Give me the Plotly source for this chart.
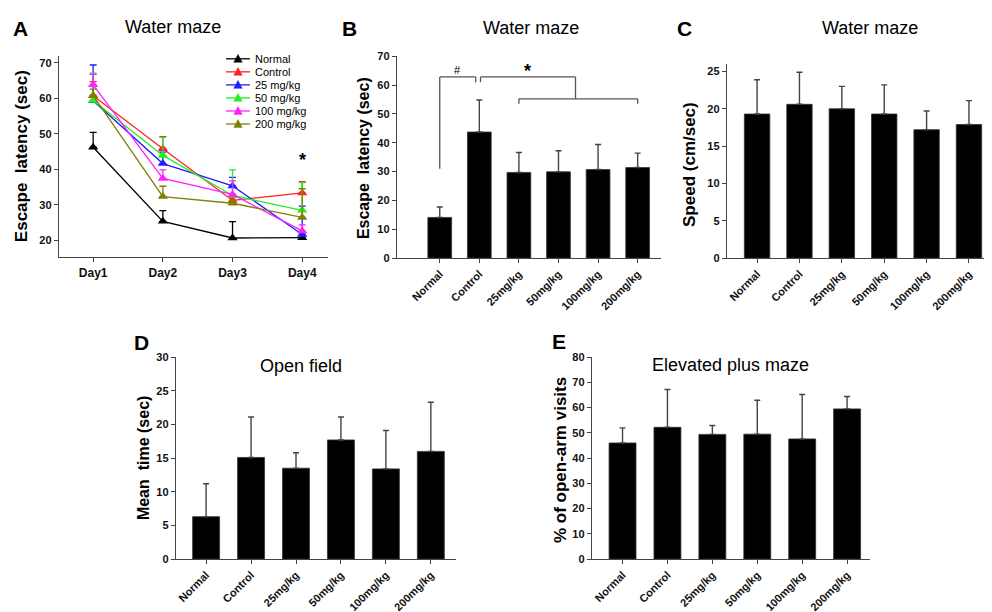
import plotly.graph_objects as go

W, H = 992, 612
FONT = "Liberation Sans"

# ---- data ----
days = ["Day1", "Day2", "Day3", "Day4"]
groups_a = ["Normal", "Control", "25 mg/kg", "50 mg/kg", "100 mg/kg", "200 mg/kg"]
colors_a = ["#000000", "#ff2020", "#1f1fff", "#22ee22", "#ff20ff", "#808000"]

# escape latency per day (mean) and upper error length
lat_normal = [46.2, 25.3, 20.6, 20.7]
lat_control = [60.7, 45.8, 31.2, 33.3]
lat_25 = [59.3, 41.6, 35.3, 21.6]
lat_50 = [59.4, 43.9, 32.6, 28.4]
lat_100 = [63.8, 37.4, 32.9, 22.6]
lat_200 = [60.8, 32.3, 30.4, 26.4]
err_normal = [4.2, 3.0, 4.6, 0.6]
err_control = [4.0, 3.4, 0.8, 3.2]
err_25 = [10.1, 3.2, 2.4, 8.0]
err_50 = [7.7, 5.1, 7.2, 7.8]
err_100 = [3.0, 2.4, 3.8, 1.7]
err_200 = [1.8, 2.9, 0.9, 8.1]

cats = ["Normal", "Control", "25mg/kg", "50mg/kg", "100mg/kg", "200mg/kg"]

escape_mean = [14.1, 43.7, 29.7, 29.9, 30.7, 31.4]
escape_err = [3.6, 11.1, 6.9, 7.3, 8.7, 5.0]

speed_mean = [19.3, 20.6, 20.0, 19.3, 17.2, 17.9]
speed_err = [4.6, 4.3, 3.0, 3.9, 2.5, 3.2]

openfield_mean = [6.3, 15.1, 13.5, 17.7, 13.4, 16.0]
openfield_err = [4.9, 6.0, 2.3, 3.4, 5.7, 7.3]

epm_mean = [46.0, 52.2, 49.4, 49.5, 47.6, 59.5]
epm_err = [6.0, 15.0, 3.5, 13.4, 17.6, 4.9]


def xd(a, b):
    return [a / W, b / W]


def yd(top, bottom):
    return [1 - bottom / H, 1 - top / H]


fig = go.Figure()

# ---- panel A: line chart ----
lat_all = [lat_normal, lat_control, lat_25, lat_50, lat_100, lat_200]
err_all = [err_normal, err_control, err_25, err_50, err_100, err_200]
for name, col, ys, es in zip(groups_a, colors_a, lat_all, err_all):
    fig.add_trace(go.Scatter(
        x=days, y=ys, name=name, mode="lines+markers", showlegend=False,
        line=dict(color=col, width=1.3),
        marker=dict(symbol="triangle-up", size=9, color=col),
        error_y=dict(type="data", array=es, arrayminus=[0] * len(es), symmetric=False,
                     color=col, thickness=1.3, width=3.5),
        xaxis="x", yaxis="y",
    ))

# ---- bar panels ----
bar_sets = [
    (escape_mean, escape_err, "x2", "y2"),
    (speed_mean, speed_err, "x3", "y3"),
    (openfield_mean, openfield_err, "x4", "y4"),
    (epm_mean, epm_err, "x5", "y5"),
]
for means, errs, xa, ya in bar_sets:
    fig.add_trace(go.Bar(
        x=cats, y=means, width=0.6, showlegend=False,
        marker=dict(color="#000000", line=dict(color="#333333", width=0.8)),
        error_y=dict(type="data", array=errs, arrayminus=[0] * len(errs), symmetric=False,
                     color="#444444", thickness=1.4, width=3),
        xaxis=xa, yaxis=ya,
    ))

axcol = "#444444"
tickf = dict(family=FONT, size=11, color="#111111", weight="bold")


def xax(dom, rng, angle=-45, size=11):
    return dict(domain=dom, range=rng, showline=True, linecolor=axcol, linewidth=1.4,
                ticks="outside", ticklen=4, tickwidth=1.2, tickcolor=axcol,
                tickangle=angle, tickfont=dict(tickf, size=size), showgrid=False,
                zeroline=False, type="category")


def yax(dom, rng, dtick, anchor):
    return dict(domain=dom, range=rng, showline=True, linecolor=axcol, linewidth=1.4,
                ticks="outside", ticklen=4, tickwidth=1.2, tickcolor=axcol, dtick=dtick,
                tickfont=tickf, showgrid=False, zeroline=False, anchor=anchor)


fig.update_layout(
    width=W, height=H, autosize=False,
    margin=dict(l=0, r=0, t=0, b=0),
    paper_bgcolor="white", plot_bgcolor="white",
    font=dict(family=FONT, color="#111111"),
    showlegend=False,
    xaxis=dict(xax(xd(51, 320), [-0.49, 3.37], angle=0, size=12), anchor="y"),
    yaxis=dict(yax(yd(43, 248), [15.2, 71.9], 10, "x"), tickvals=[20, 30, 40, 50, 60, 70]),
    xaxis2=dict(xax(xd(389, 653), [-1.08, 5.59]), anchor="y2"),
    yaxis2=yax(yd(43, 249), [0, 70], 10, "x2"),
    xaxis3=dict(xax(xd(719, 983), [-0.71, 5.52]), anchor="y3"),
    yaxis3=yax(yd(51, 249), [0, 26], 5, "x3"),
    xaxis4=dict(xax(xd(168, 448), [-0.67, 5.56]), anchor="y4"),
    yaxis4=yax(yd(350, 556), [0, 30], 5, "x4"),
    xaxis5=dict(xax(xd(584, 862), [-0.68, 5.51]), anchor="y5"),
    yaxis5=yax(yd(350, 556), [0, 80], 10, "x5"),
)

# titles, panel letters and axis titles as annotations
ann = []


def txt(x, y, s, size, bold=False, angle=0, xanchor="center"):
    ann.append(dict(x=x / W, y=1 - y / H, xref="paper", yref="paper", text=s,
                    showarrow=False, textangle=angle, xanchor=xanchor, yanchor="middle",
                    font=dict(family=FONT, size=size, color="#000000",
                              weight="bold" if bold else "normal")))


for letter, x, y in [("A", 12, 15), ("B", 341, 15), ("C", 676, 15), ("D", 133, 335), ("E", 551, 334)]:
    txt(x, y, letter, 21, bold=True)

txt(165, 13, "Water maze", 18)
txt(523, 14, "Water maze", 18)
txt(862, 14, "Water maze", 18)
txt(293, 359, "Open field", 18)
txt(722, 358, "Elevated plus maze", 18)

txt(13, 145, "Escape  latency (sec)", 17, bold=True, angle=-90)
txt(355, 147, "Escape  latency (sec)", 16, bold=True, angle=-90)
txt(682, 154, "Speed (cm/sec)", 17, bold=True, angle=-90)
txt(135, 453, "Mean  time (sec)", 16, bold=True, angle=-90)
txt(552, 455, "% of open-arm visits", 17, bold=True, angle=-90)

# compact legend for panel A (plotly's own legend rows are too tall here)
for i, (name, col) in enumerate(zip(groups_a, colors_a)):
    cy = 45.7 + 13.3 * i
    fig.add_shape(type="line", xref="paper", yref="paper",
                  x0=218 / W, x1=242 / W, y0=1 - cy / H, y1=1 - cy / H,
                  line=dict(color=col, width=1.3))
    tri = "M {} {} L {} {} L {} {} Z".format(
        (230 - 4.2) / W, 1 - (cy + 3.5) / H,
        (230 + 4.2) / W, 1 - (cy + 3.5) / H,
        230 / W, 1 - (cy - 4.5) / H)
    fig.add_shape(type="path", xref="paper", yref="paper", path=tri,
                  fillcolor=col, line=dict(color=col, width=0.5))
    txt(245, cy, name, 11, xanchor="left")

# significance marks
ann.append(dict(x="Day4", y=42.6, xref="x", yref="y", text="*", showarrow=False,
                font=dict(family=FONT, size=18, color="#000000", weight="bold")))
ann.append(dict(x=0.46, y=65.2, xref="x2", yref="y2", text="#", showarrow=False,
                font=dict(family=FONT, size=11, color="#000000")))
ann.append(dict(x=2.21, y=64.8, xref="x2", yref="y2", text="*", showarrow=False,
                font=dict(family=FONT, size=18, color="#000000", weight="bold")))
fig.update_layout(annotations=ann)

# brackets in panel B
brk = dict(color="#555555", width=1.3)
segs = [
    (0.0, 31, 0.0, 62.8), (0.0, 62.8, 0.91, 62.8), (0.91, 62.8, 0.91, 61),
    (1.03, 61, 1.03, 62.8), (1.03, 62.8, 3.43, 62.8), (3.43, 62.8, 3.43, 55.2),
    (2.0, 55.2, 5.0, 55.2), (2.0, 55.2, 2.0, 53.5), (5.0, 55.2, 5.0, 53.5),
]
for x0, y0, x1, y1 in segs:
    fig.add_shape(type="line", x0=x0, y0=y0, x1=x1, y1=y1, xref="x2", yref="y2", line=brk)

fig.write_html("out.html")
